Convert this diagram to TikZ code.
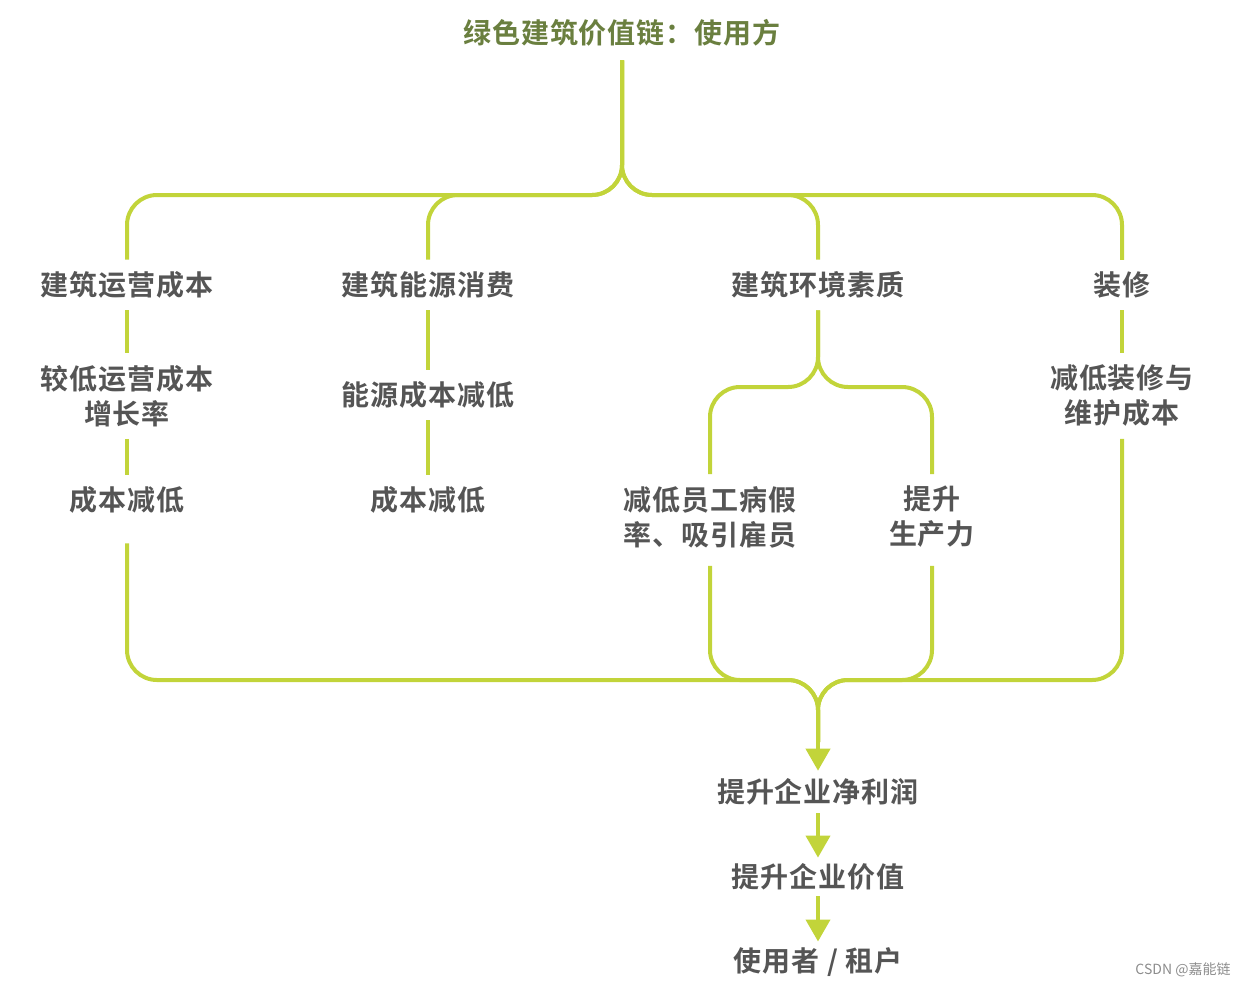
\documentclass[tikz,border=0pt]{standalone}
\usepackage{fontspec}
\newfontfamily\cjkb[LetterSpace=3.5]{Noto Sans CJK SC Bold}
\newfontfamily\cjk{Noto Sans CJK SC}
\usetikzlibrary{arrows.meta}
\definecolor{linkc}{HTML}{C2D43A}
\definecolor{txtc}{HTML}{555555}
\definecolor{titlec}{HTML}{6A7F3F}
\tikzset{
  lbl/.style={font=\cjkb\fontsize{14}{17.5}\selectfont, text=txtc, align=center, inner sep=0pt, outer sep=6pt},
  ttl/.style={font=\cjkb\fontsize{14}{17.5}\selectfont, text=titlec, inner sep=0pt, outer sep=7pt},
  link/.style={draw=linkc, line width=2pt, rounded corners=15pt},
  arr/.style={draw=linkc, line width=2pt, -{Triangle[width=12pt,length=11pt]}},
}
\begin{document}
\begin{tikzpicture}[x=0.5pt,y=-0.5pt]
\useasboundingbox (0,0) rectangle (1248,987);
% nodes
\node[ttl] (title) at (622,33) {绿色建筑价值链：使用方};
\node[lbl] (a1) at (127,285) {建筑运营成本};
\node[lbl] (a2) at (127,396) {较低运营成本\\增长率};
\node[lbl] (a3) at (127,500) {成本减低};
\node[lbl] (b1) at (428,285) {建筑能源消费};
\node[lbl] (b2) at (428,395) {能源成本减低};
\node[lbl] (b3) at (428,500) {成本减低};
\node[lbl] (c1) at (818,285) {建筑环境素质};
\node[lbl] (c2) at (710,517) {减低员工病假\\率、吸引雇员};
\node[lbl] (c3) at (932,517) {提升\\生产力};
\node[lbl] (d1) at (1122,285) {装修};
\node[lbl] (d2) at (1122,396) {减低装修与\\维护成本};
\node[lbl,outer sep=4pt] (e1) at (818,792) {提升企业净利润};
\node[lbl,outer sep=3pt] (e2) at (818,877) {提升企业价值};
\node[lbl,outer sep=3pt] (e3) at (818,962) {使用者 / 租户};
\node[font=\cjk\fontsize{7}{8}\selectfont, text=black!45, inner sep=0pt] (wm) at (1183,970) {CSDN @嘉能链};
% helper coordinates
\coordinate (h) at (622,195);
\coordinate (s) at (818,387);
\coordinate (m) at (818,680);
\coordinate (j) at (818,742);
% top tree
\draw[link] (title.south) -- (h) -| (a1.north);
\draw[link] (title.south) -- (h) -| (b1.north);
\draw[link] (title.south) -- (h) -| (c1.north);
\draw[link] (title.south) -- (h) -| (d1.north);
% columns
\draw[link] (a1.south) -- (a2.north);
\draw[link] (a2.south) -- (a3.north);
\draw[link] (b1.south) -- (b2.north);
\draw[link] (b2.south) -- (b3.north);
\draw[link] (c1.south) -- (s) -| (c2.north);
\draw[link] (c1.south) -- (s) -| (c3.north);
\draw[link] (d1.south) -- (d2.north);
% merge
\draw[link] ([yshift=-9pt]a3.south) |- (m) -- (j);
\draw[link] ([yshift=-3pt]c2.south) |- (m) -- (j);
\draw[link] ([yshift=-3pt]c3.south) |- (m) -- (j);
\draw[link] (d2.south) |- (m) -- (j);
% arrows
\draw[arr] (j) -- (e1.north);
\draw[arr] (e1.south) -- (e2.north);
\draw[arr] (e2.south) -- (e3.north);
\end{tikzpicture}
\end{document}
